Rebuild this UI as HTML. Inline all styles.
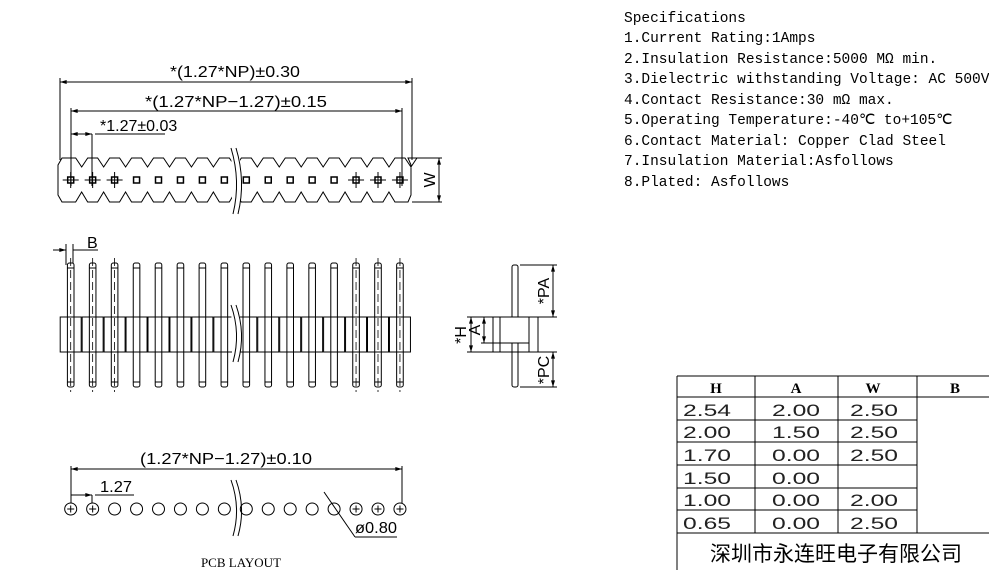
<!DOCTYPE html>
<html><head><meta charset="utf-8"><style>
body{margin:0;background:#fff;width:989px;height:570px;overflow:hidden}
svg{position:absolute;left:0;top:0}
.t{font-family:"Liberation Sans",sans-serif;font-size:16px;fill:#000}
.m{font-family:"Liberation Mono","Liberation Serif",monospace;font-size:14.5px;fill:#000}
.tb{font-family:"Liberation Serif",serif;font-weight:bold;font-size:15px;fill:#000}
</style></head><body>
<svg id="s" width="989" height="570" viewBox="0 0 989 570" fill="none" stroke="#000" stroke-width="1">
<defs>
<marker id="a" viewBox="0 0 10 6" refX="10" refY="3" markerWidth="9" markerHeight="4" orient="auto-start-reverse" markerUnits="userSpaceOnUse"><path d="M0,0L10,3L0,6" fill="#000" stroke="none"/></marker>
</defs>
<g stroke="none">
<text class="m" x="624" y="22">Specifications</text>
<text class="m" x="624" y="42">1.Current Rating:1Amps</text>
<text class="m" x="624" y="63">2.Insulation Resistance:5000 MΩ min.</text>
<text class="m" x="624" y="83">3.Dielectric withstanding Voltage: AC 500V</text>
<text class="m" x="624" y="104">4.Contact Resistance:30 mΩ max.</text>
<text class="m" x="624" y="124">5.Operating Temperature:-40℃ to+105℃</text>
<text class="m" x="624" y="145">6.Contact Material: Copper Clad Steel</text>
<text class="m" x="624" y="165">7.Insulation Material:Asfollows</text>
<text class="m" x="624" y="186">8.Plated: Asfollows</text>
</g>
<g stroke="none">
<text class="t" x="170" y="77" textLength="130" lengthAdjust="spacingAndGlyphs">*(1.27*NP)±0.30</text>
<text class="t" x="145" y="107" textLength="182" lengthAdjust="spacingAndGlyphs">*(1.27*NP−1.27)±0.15</text>
<text class="t" x="100" y="131">*1.27±0.03</text>
<text class="t" x="140" y="464" textLength="172" lengthAdjust="spacingAndGlyphs">(1.27*NP−1.27)±0.10</text>
<text class="t" x="100" y="492" textLength="32" lengthAdjust="spacingAndGlyphs">1.27</text>
<text class="t" x="355" y="533" textLength="42" lengthAdjust="spacingAndGlyphs">ø0.80</text>
</g>
<line x1="60" y1="82" x2="412" y2="82" marker-start="url(#a)" marker-end="url(#a)"/>
<line x1="60" y1="78" x2="60" y2="160"/><line x1="412" y1="78" x2="412" y2="160"/>
<line x1="71" y1="111" x2="402" y2="111" marker-start="url(#a)" marker-end="url(#a)"/>
<line x1="71" y1="108" x2="71" y2="186"/><line x1="402" y1="108" x2="402" y2="186"/>
<line x1="95" y1="134" x2="165" y2="134"/>
<line x1="71" y1="134" x2="92" y2="134" marker-start="url(#a)" marker-end="url(#a)"/>
<line x1="92" y1="134" x2="92" y2="186"/>
<line x1="412" y1="158" x2="442" y2="158"/><line x1="412" y1="202" x2="442" y2="202"/>
<line x1="439" y1="158" x2="439" y2="202" marker-start="url(#a)" marker-end="url(#a)"/>
<text class="t" x="0" y="0" transform="translate(435,180) rotate(-90)" text-anchor="middle" stroke="none">W</text>
<text class="t" x="87" y="248" stroke="none">B</text>
<line x1="53" y1="250" x2="66" y2="250" marker-end="url(#a)"/>
<line x1="73" y1="250" x2="98" y2="250"/>
<line x1="66" y1="244" x2="66" y2="265"/><line x1="73" y1="244" x2="73" y2="265"/>
<rect x="512" y="265" width="6" height="122" rx="2"/>
<rect x="493" y="317" width="45" height="35" fill="#fff"/>
<line x1="500" y1="317" x2="500" y2="352"/><line x1="529" y1="317" x2="529" y2="352"/>
<line x1="500" y1="343" x2="529" y2="343"/>
<line x1="512" y1="343" x2="512" y2="352"/><line x1="518" y1="343" x2="518" y2="352"/>
<line x1="520" y1="265" x2="557" y2="265"/><line x1="538" y1="317" x2="557" y2="317"/>
<line x1="538" y1="352" x2="557" y2="352"/><line x1="520" y1="387" x2="557" y2="387"/>
<line x1="553" y1="265" x2="553" y2="317" marker-start="url(#a)" marker-end="url(#a)"/>
<line x1="553" y1="352" x2="553" y2="387" marker-start="url(#a)" marker-end="url(#a)"/>
<text class="t" x="0" y="0" transform="translate(549,291) rotate(-90)" text-anchor="middle" stroke="none">*PA</text>
<text class="t" x="0" y="0" transform="translate(549,370) rotate(-90)" text-anchor="middle" stroke="none">*PC</text>
<line x1="467" y1="317" x2="493" y2="317"/><line x1="467" y1="352" x2="493" y2="352"/>
<line x1="481" y1="343" x2="500" y2="343"/>
<line x1="471" y1="317" x2="471" y2="352" marker-start="url(#a)" marker-end="url(#a)"/>
<line x1="484" y1="317" x2="484" y2="343" marker-start="url(#a)" marker-end="url(#a)"/>
<text class="t" x="0" y="0" transform="translate(466,335) rotate(-90)" text-anchor="middle" stroke="none">*H</text>
<text class="t" x="0" y="0" transform="translate(480,330) rotate(-90)" text-anchor="middle" stroke="none">A</text>
<line x1="71" y1="469" x2="402" y2="469" marker-start="url(#a)" marker-end="url(#a)"/>
<line x1="71" y1="466" x2="71" y2="503"/><line x1="402" y1="466" x2="402" y2="503"/>
<line x1="95" y1="495" x2="134" y2="495"/>
<line x1="71" y1="495" x2="92" y2="495" marker-end="url(#a)"/>
<line x1="92" y1="495" x2="92" y2="503"/>
<line x1="324" y1="492" x2="355" y2="537"/><line x1="355" y1="537" x2="397" y2="537"/>
<text x="241" y="567" text-anchor="middle" stroke="none" style="font-family:'Liberation Serif',serif;font-size:13px;fill:#000">PCB LAYOUT</text>
<g>
<line x1="677" y1="376" x2="989" y2="376"/>
<line x1="677" y1="376" x2="677" y2="570"/>
<line x1="755" y1="376" x2="755" y2="533"/>
<line x1="838" y1="376" x2="838" y2="533"/>
<line x1="917" y1="376" x2="917" y2="533"/>
<line x1="677" y1="397" x2="989" y2="397"/>
<line x1="677" y1="420" x2="917" y2="420"/><line x1="677" y1="442" x2="917" y2="442"/>
<line x1="677" y1="465" x2="917" y2="465"/><line x1="677" y1="488" x2="917" y2="488"/>
<line x1="677" y1="510" x2="917" y2="510"/><line x1="677" y1="533" x2="989" y2="533"/>
</g>
<g stroke="none" text-anchor="middle">
<text class="tb" x="716" y="393">H</text><text class="tb" x="796" y="393">A</text><text class="tb" x="873" y="393">W</text><text class="tb" x="955" y="393">B</text>
</g>
<g stroke="none" class="t" style="font-size:17px;fill:#222">
<text x="683" y="416" textLength="48" lengthAdjust="spacingAndGlyphs">2.54</text><text x="772" y="416" textLength="48" lengthAdjust="spacingAndGlyphs">2.00</text><text x="850" y="416" textLength="48" lengthAdjust="spacingAndGlyphs">2.50</text>
<text x="683" y="438" textLength="48" lengthAdjust="spacingAndGlyphs">2.00</text><text x="772" y="438" textLength="48" lengthAdjust="spacingAndGlyphs">1.50</text><text x="850" y="438" textLength="48" lengthAdjust="spacingAndGlyphs">2.50</text>
<text x="683" y="461" textLength="48" lengthAdjust="spacingAndGlyphs">1.70</text><text x="772" y="461" textLength="48" lengthAdjust="spacingAndGlyphs">0.00</text><text x="850" y="461" textLength="48" lengthAdjust="spacingAndGlyphs">2.50</text>
<text x="683" y="484" textLength="48" lengthAdjust="spacingAndGlyphs">1.50</text><text x="772" y="484" textLength="48" lengthAdjust="spacingAndGlyphs">0.00</text>
<text x="683" y="506" textLength="48" lengthAdjust="spacingAndGlyphs">1.00</text><text x="772" y="506" textLength="48" lengthAdjust="spacingAndGlyphs">0.00</text><text x="850" y="506" textLength="48" lengthAdjust="spacingAndGlyphs">2.00</text>
<text x="683" y="529" textLength="48" lengthAdjust="spacingAndGlyphs">0.65</text><text x="772" y="529" textLength="48" lengthAdjust="spacingAndGlyphs">0.00</text><text x="850" y="529" textLength="48" lengthAdjust="spacingAndGlyphs">2.50</text>
</g>
<text x="710" y="561" stroke="none" textLength="252" style="font-family:'Noto Sans CJK SC',sans-serif;font-size:21px;fill:#000">深圳市永连旺电子有限公司</text>
<g id="gen"></g>
</svg>
<script>
var g=document.getElementById('gen'),h='';
function X(i){return 70.7+21.95*i;}
var cross=[0,1,2,13,14,15];
var p='M58,165 L62,158';
for(var i=0;i<16;i++){var x=X(i);p+=' L'+(x+5)+',158 L'+(x+11)+',167 L'+(x+17)+',158';}
p+=' L408,158 L411,165 L411,195 L408,202';
for(var i=15;i>=0;i--){var x=X(i);p+=' L'+(x-5)+',202';if(i>0)p+=' L'+(x-11)+',192 L'+(x-17)+',202';}
p+=' L62,202 L58,195 Z';
h+='<path d="'+p+'"/>';
for(var i=0;i<16;i++){var x=X(i);
 h+='<rect x="'+(x-3)+'" y="177" width="6" height="6" stroke-width="1.5"/>';
 if(cross.indexOf(i)>=0){h+='<line x1="'+(x-8)+'" y1="180" x2="'+(x+8)+'" y2="180"/><line x1="'+x+'" y1="172" x2="'+x+'" y2="188"/>';}
 h+='<rect x="'+(x-3.3)+'" y="263" width="6.6" height="124" rx="2" fill="#fff"/>';
 h+='<line x1="'+(x-3.3)+'" y1="268" x2="'+(x+3.3)+'" y2="268"/><line x1="'+(x-3.3)+'" y1="382" x2="'+(x+3.3)+'" y2="382"/>';
 h+='<rect x="'+(x-10.5)+'" y="317" width="21" height="35" fill="#fff"/>';
 h+='<line x1="'+(x-3.3)+'" y1="317" x2="'+(x-3.3)+'" y2="352"/><line x1="'+(x+3.3)+'" y1="317" x2="'+(x+3.3)+'" y2="352"/>';
 if(cross.indexOf(i)>=0){h+='<line x1="'+x+'" y1="258" x2="'+x+'" y2="392" stroke-dasharray="8,4" stroke-width="0.8"/>';}
 h+='<circle cx="'+x+'" cy="509" r="6"/>';
 if(cross.indexOf(i)>=0&&i!=2){h+='<line x1="'+(x-3.5)+'" y1="509" x2="'+(x+3.5)+'" y2="509"/><line x1="'+x+'" y1="505.5" x2="'+x+'" y2="512.5"/>';}
}
function brk(y1,y2){var m=(y1+y2)/2;return '<path d="M231,'+y1+' Q241,'+m+' 233,'+y2+'" stroke="#000" fill="#fff"/><path d="M236,'+y1+' Q246,'+m+' 238,'+y2+'"/>';}
h+='<rect x="232" y="150" width="8" height="62" fill="#fff" stroke="none"/>'+brk(148,214);
h+='<rect x="232" y="310" width="8" height="50" fill="#fff" stroke="none"/>'+brk(305,362);
h+=brk(480,536);
g.innerHTML=h;
</script>
</body></html>
